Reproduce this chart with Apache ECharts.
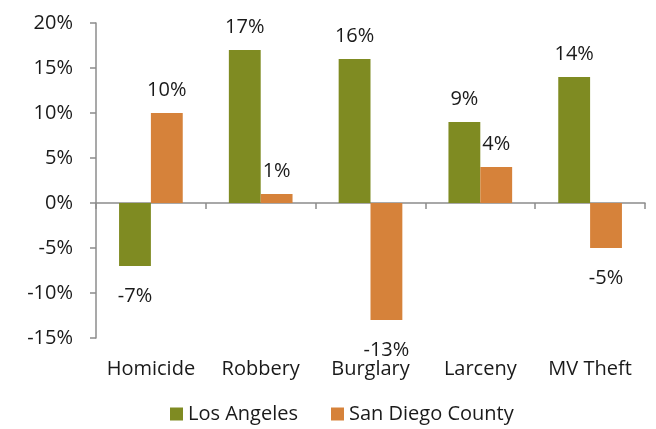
<!DOCTYPE html>
<html>
<head>
<meta charset="utf-8">
<script src="https://cdn.jsdelivr.net/npm/echarts@6/dist/echarts.min.js"></script>
<style>
  html, body { margin: 0; padding: 0; background: #fff; }
  #chart { width: 656px; height: 429px; }
</style>
</head>
<body>
<div id="chart"></div>
<script>
var categories = ['Homicide', 'Robbery', 'Burglary', 'Larceny', 'MV Theft'];
var losAngeles = [-7, 17, 16, 9, 14];
var sanDiego = [10, 1, -13, 4, -5];
var seriesNames = ['Los Angeles', 'San Diego County'];

var font = 'Open Sans';
var fs = 20;
var textColor = '#1a1a1a';
var axisColor = '#8c8c8c';

// 正值标签在上方，负值标签在下方
function withLabels(values) {
  return values.map(function (v) {
    return {
      value: v,
      label: v >= 0
        ? { position: 'top', distance: 13 }
        : { position: 'bottom', distance: 20 }
    };
  });
}

var myChart = echarts.init(document.getElementById('chart'));

var option = {
  animation: false,
  textStyle: { fontFamily: font },
  color: ['#7f8b22', '#d6823a'],
  grid: { left: 96, right: 11, top: 23, bottom: 91 },
  legend: {
    data: seriesNames,
    left: 170,
    top: 404,
    padding: 0,
    itemWidth: 13,
    itemHeight: 13,
    itemGap: 33,
    icon: 'rect',
    textStyle: { fontFamily: font, fontSize: fs, color: textColor }
  },
  xAxis: [
    {
      type: 'category',
      data: categories,
      axisLine: { onZero: true, lineStyle: { color: axisColor, width: 1.5 } },
      axisTick: { show: true, length: 6, lineStyle: { color: axisColor, width: 1.5 } },
      axisLabel: { show: false }
    },
    {
      type: 'category',
      data: categories,
      position: 'bottom',
      axisLine: { show: false },
      axisTick: { show: false },
      axisLabel: { interval: 0, fontFamily: font, fontSize: fs, color: textColor, margin: 21 }
    }
  ],
  yAxis: {
    type: 'value',
    min: -15,
    max: 20,
    interval: 5,
    axisLine: { show: true, lineStyle: { color: axisColor, width: 1.5 } },
    axisTick: { show: true, length: 6, lineStyle: { color: axisColor, width: 1.5 } },
    splitLine: { show: false },
    axisLabel: { formatter: '{value}%', fontFamily: font, fontSize: fs, color: textColor, margin: 23 }
  },
  series: [
    {
      name: seriesNames[0],
      type: 'bar',
      data: withLabels(losAngeles),
      barGap: '0%',
      barCategoryGap: '42%',
      label: { show: true, formatter: '{c}%', fontFamily: font, fontSize: fs, color: textColor }
    },
    {
      name: seriesNames[1],
      type: 'bar',
      data: withLabels(sanDiego),
      barGap: '0%',
      barCategoryGap: '42%',
      label: { show: true, formatter: '{c}%', fontFamily: font, fontSize: fs, color: textColor }
    }
  ]
};

myChart.setOption(option);
</script>
</body>
</html>
